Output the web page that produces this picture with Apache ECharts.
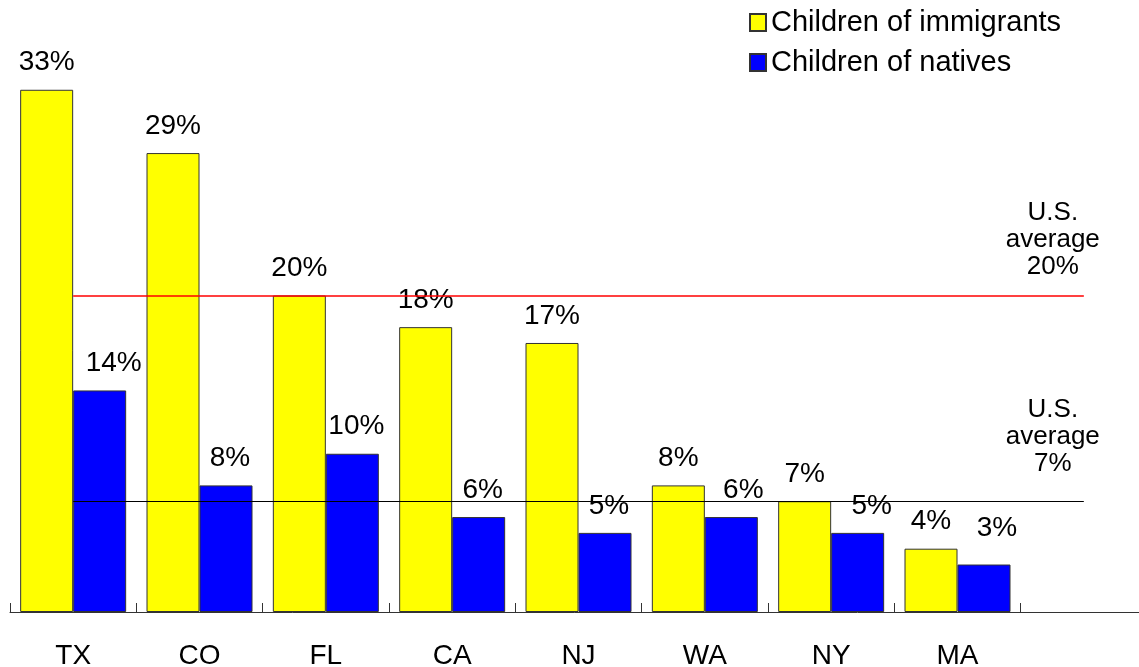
<!DOCTYPE html>
<html>
<head>
<meta charset="utf-8">
<script src="https://cdn.jsdelivr.net/npm/echarts@6/dist/echarts.min.js"></script>
<style>
html, body { margin: 0; padding: 0; background: #fff; }
#chart { width: 1139px; height: 667px; }
</style>
</head>
<body>
<div id="chart"></div>
<script>
// categories (last one is an empty slot, the axis runs on past MA)
const states = ['TX', 'CO', 'FL', 'CA', 'NJ', 'WA', 'NY', 'MA', ''];
const immigrants = [33, 29, 20, 18, 17, 8, 7, 4];
const natives = [14, 8, 10, 6, 5, 6, 5, 3];
const usAvgImmigrants = 20;
const usAvgNatives = 7;

const FONT = "'Liberation Sans', Arial, sans-serif";

// small label nudges seen in the original
const nativeLabelShift = [[14, 0], [4, 0], [4, 0], [4, 0], [4, 0], [12, 0], [14, 0], [13, -9]];

const lastIdx = states.length - 1;

function avgLine(value, color, width) {
  return {
    symbol: ['none', 'none'],
    silent: true,
    label: { show: false },
    lineStyle: { color: color, width: width, type: 'solid', opacity: 1 },
    emphasis: { disabled: true },
    data: [[{ coord: [0, value] }, { coord: [lastIdx, value] }]]
  };
}

function avgText(value, dist) {
  return {
    symbol: 'circle',
    symbolSize: 0,
    silent: true,
    itemStyle: { color: 'transparent' },
    label: {
      show: true,
      position: 'top',
      distance: dist,
      offset: [-31, 0],
      align: 'center',
      color: '#000',
      fontFamily: FONT,
      fontSize: 26,
      lineHeight: 27,
      formatter: 'U.S.\naverage\n' + value + '%'
    },
    data: [{ coord: [lastIdx, value] }]
  };
}

const labelBase = {
  show: true,
  position: 'top',
  distance: 13,
  color: '#000',
  fontFamily: FONT,
  fontSize: 28,
  lineHeight: 28,
  formatter: '{c}%'
};

const option = {
  animation: false,
  backgroundColor: '#fff',
  textStyle: { fontFamily: FONT },
  legend: {
    orient: 'vertical',
    left: 744,
    top: 3,
    itemWidth: 16,
    itemHeight: 17,
    itemGap: 11,
    icon: 'rect',
    textStyle: { fontFamily: FONT, fontSize: 29, lineHeight: 28, color: '#000' },
    data: ['Children of immigrants', 'Children of natives']
  },
  grid: {
    left: 10,
    width: 1137,
    top: 58.125,
    bottom: 55,
    containLabel: false,
    outerBoundsMode: 'none'
  },
  xAxis: {
    type: 'category',
    data: states,
    axisLine: { lineStyle: { color: '#333', width: 1 } },
    axisTick: { show: true, inside: true, length: 9, lineStyle: { color: '#333' } },
    axisLabel: { color: '#000', fontFamily: FONT, fontSize: 28, lineHeight: 28, margin: 30 },
    splitLine: { show: false }
  },
  yAxis: {
    type: 'value',
    show: false,
    min: 0,
    max: 35,
    splitLine: { show: false }
  },
  series: [
    {
      name: 'Children of immigrants',
      type: 'bar',
      barWidth: 53,
      barGap: '0%',
      itemStyle: { color: '#ffff00', borderColor: '#333', borderWidth: 1 },
      label: labelBase,
      data: immigrants
    },
    {
      name: 'Children of natives',
      type: 'bar',
      barWidth: 53,
      barGap: '0%',
      itemStyle: { color: '#0000ff', borderColor: '#333', borderWidth: 1 },
      label: labelBase,
      data: natives.map((v, i) => ({ value: v, label: { offset: nativeLabelShift[i] } }))
    },
    {
      name: 'usAvgImmigrants',
      type: 'line',
      data: [],
      markLine: avgLine(usAvgImmigrants, '#ff0000', 1.5),
      markPoint: avgText(usAvgImmigrants, 15)
    },
    {
      name: 'usAvgNatives',
      type: 'line',
      data: [],
      markLine: avgLine(usAvgNatives, '#000000', 1),
      markPoint: avgText(usAvgNatives, 24)
    }
  ]
};

const chart = echarts.init(document.getElementById('chart'), null, { renderer: 'canvas' });
chart.setOption(option);
</script>
</body>
</html>
